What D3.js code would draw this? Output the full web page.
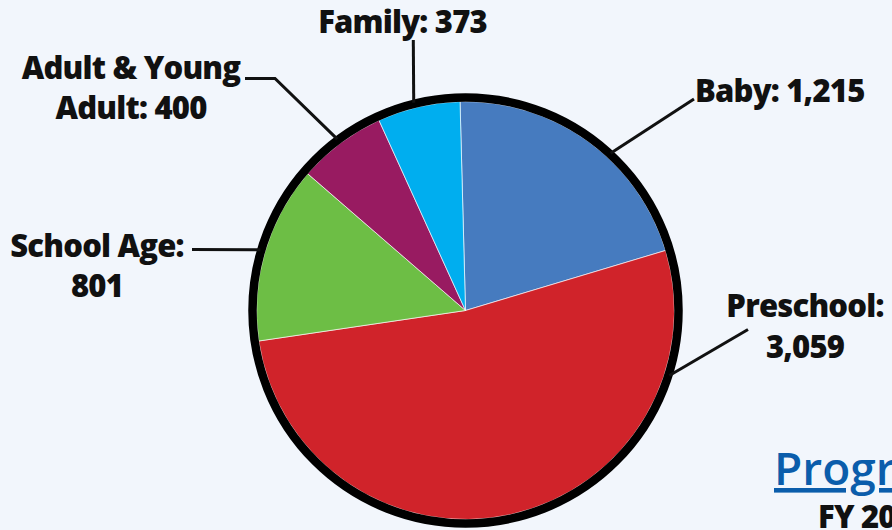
<!DOCTYPE html>
<html>
<head>
<meta charset="utf-8">
<script src="https://cdn.jsdelivr.net/npm/d3@7"></script>
<style>
    html, body { margin: 0; padding: 0; background: #f2f6fc; overflow: hidden; }
    svg { display: block; }
    .label { font-family: "Open Sans", sans-serif; font-weight: 800; font-size: 31px; letter-spacing: -0.8px; fill: #111; }
    .leader { stroke: #111; stroke-width: 3; fill: none; }
</style>
</head>
<body>
<script>
// chart data
var categories = ['Baby', 'Preschool', 'School Age', 'Adult & Young Adult', 'Family'];
var values = [1215, 3059, 801, 400, 373];
var colors = ['#467bbf', '#d0232a', '#6dbe45', '#981b61', '#00aeef'];
// label text, one array of lines per slice
var labelLines = [
    ['Baby: 1,215'],
    ['Preschool:', '3,059'],
    ['School Age:', '801'],
    ['Adult & Young', 'Adult: 400'],
    ['Family: 373']
];

var width = 892;
var height = 530;
var cx = 465.5, cy = 310.5;
var radius = 209;

// layout of labels: angle (deg) where the leader meets the ring, elbow points, text spot
var labelLayout = [
    {angle: 42.7, pts: [[694, 99]], x: 695, y: 101.5, anchor: 'start'},
    {angle: 107.7, pts: [[748, 329.5]], x: 805, y: 317, anchor: 'middle'},
    {angle: 286.5, pts: [[192, 249.5]], x: 97, y: 256.5, anchor: 'middle'},
    {angle: 323.2, pts: [[275, 78.5], [245, 78.5]], x: 131, y: 78.5, anchor: 'middle'},
    {angle: 346.0, pts: [[413.3, 40]], x: 402.5, y: 33, anchor: 'middle'}
];

var svg = d3.select('body')
    .append('svg')
    .attr('width', width)
    .attr('height', height);

var pie = d3.pie()
    .sort(null)
    .startAngle(-1.5 * Math.PI / 180)
    .endAngle(2 * Math.PI - 1.5 * Math.PI / 180);

var arc = d3.arc()
    .innerRadius(0)
    .outerRadius(radius);

var g = svg.append('g')
    .attr('transform', 'translate(' + cx + ',' + cy + ')');

//畫出每一塊
g.selectAll('path.slice')
    .data(pie(values))
    .enter()
    .append('path')
    .attr('class', 'slice')
    .attr('d', arc)
    .attr('fill', function(d, i){ return colors[i]; })
    .attr('stroke', '#ffffff')
    .attr('stroke-opacity', 0.8)
    .attr('stroke-width', 0.8);

//leader lines
var line = d3.line();
labelLayout.forEach(function(l){
    var p = d3.pointRadial(l.angle * Math.PI / 180, radius + 5);
    var pts = [[cx + p[0], cy + p[1]]].concat(l.pts);
    svg.append('path')
        .attr('class', 'leader')
        .attr('d', line(pts));
});

//外圈
g.append('circle')
    .attr('r', radius + 4)
    .attr('fill', 'none')
    .attr('stroke', '#000')
    .attr('stroke-width', 8.5);

//labels
labelLayout.forEach(function(l, i){
    var t = svg.append('text')
        .attr('class', 'label')
        .attr('text-anchor', l.anchor)
        .attr('x', l.x)
        .attr('y', l.y);
    labelLines[i].forEach(function(s, j){
        t.append('tspan')
            .attr('x', l.x)
            .attr('dy', j === 0 ? 0 : 40.5)
            .text(s);
    });
});

//title (cut off by the right edge)
svg.append('text')
    .attr('x', 774)
    .attr('y', 485)
    .style('font-family', '"Open Sans", sans-serif')
    .style('font-weight', 600)
    .style('font-size', '46px')
    .style('fill', '#0b5dab')
    .style('text-decoration', 'underline')
    .text('Program Attendance');

svg.append('text')
    .attr('x', 818)
    .attr('y', 528)
    .attr('class', 'label')
    .text('FY 2019');
</script>
</body>
</html>
